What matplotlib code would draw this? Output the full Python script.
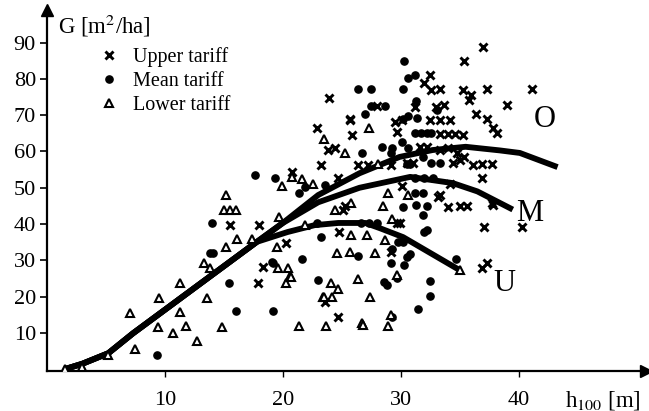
import numpy as np
import matplotlib
matplotlib.use('Agg')
import matplotlib.pyplot as plt

plt.rcParams['font.family'] = ['Liberation Serif', 'DejaVu Serif']
plt.rcParams['mathtext.fontset'] = 'stix'

# stand height h100 [m] / basal area G [m2/ha]
upper_h = [15.5, 18.0, 18.3, 17.9, 23.6, 24.7, 20.3, 23.9, 25.7, 22.9, 25.9, 23.8, 24.4, 23.2,
           26.4, 27.2, 24.7, 20.8, 25.3, 25.1, 24.8, 37.0, 35.4, 32.5, 32.0, 32.6, 33.3, 35.3,
           36.0, 35.8, 37.3, 41.1, 28.0, 31.2, 33.0, 33.7, 39.0, 25.7, 29.5, 30.1, 32.5, 33.3,
           34.2, 36.4, 37.3, 37.8, 38.2, 29.7, 33.3, 34.0, 34.6, 35.3, 31.6, 32.2, 33.3, 34.0,
           34.8, 35.4, 29.2, 30.5, 31.0, 34.4, 35.0, 36.1, 36.9, 37.7, 36.9, 33.2, 37.7, 30.1,
           34.2, 33.3, 34.0, 35.0, 35.6, 29.9, 29.7, 29.2, 37.1, 40.3, 37.3, 36.9, 37.8]
upper_g = [39.7, 39.7, 28.1, 23.7, 18.5, 14.3, 34.8, 74.8, 68.7, 66.5, 64.6, 60.4, 61.0, 56.3,
           56.3, 56.3, 52.7, 54.3, 45.0, 44.0, 37.8, 88.8, 85.0, 81.0, 78.9, 77.0, 77.2, 77.0,
           75.6, 74.2, 77.2, 77.2, 72.5, 72.3, 72.3, 72.8, 72.8, 69.0, 68.1, 68.7, 68.7, 68.7,
           68.7, 70.3, 69.0, 66.5, 65.1, 65.4, 64.8, 64.8, 64.8, 64.6, 61.2, 61.2, 60.4, 61.0,
           59.6, 58.5, 56.3, 56.8, 56.8, 56.8, 57.7, 56.3, 56.5, 56.5, 52.7, 47.4, 45.8, 50.5,
           51.0, 48.0, 44.7, 45.0, 45.0, 40.3, 40.3, 32.3, 39.2, 39.2, 29.2, 27.9, 45.2]

mean_h = [9.3, 14.0, 13.8, 14.1, 15.4, 16.0, 19.2, 19.2, 21.6, 23.0, 23.2, 22.9, 17.6, 19.3,
          21.9, 23.6, 21.4, 26.4, 26.7, 30.3, 31.2, 30.6, 27.5, 30.2, 27.5, 28.7, 31.3, 33.1,
          27.0, 30.6, 31.4, 30.2, 31.2, 31.7, 32.2, 32.6, 30.1, 28.4, 29.3, 30.6, 29.2, 31.9,
          30.5, 30.8, 32.6, 33.3, 31.2, 32.0, 32.7, 31.2, 31.9, 30.2, 31.3, 32.2, 31.9, 26.6,
          27.3, 28.0, 32.0, 32.2, 29.8, 30.2, 26.4, 19.1, 29.3, 30.5, 30.8, 30.3, 29.2, 34.7,
          28.6, 28.8, 29.7, 32.5, 32.5, 31.5, 29.3]
mean_g = [3.9, 40.3, 32.0, 32.0, 23.7, 16.0, 29.3, 16.0, 30.3, 24.5, 36.5, 40.3, 53.5, 52.7,
          50.2, 50.8, 48.6, 77.2, 59.6, 85.0, 81.0, 80.3, 77.2, 77.2, 72.5, 72.5, 74.0, 71.4,
          70.3, 69.8, 69.2, 69.0, 65.1, 65.1, 65.1, 65.1, 62.6, 61.2, 61.0, 61.0, 59.6, 58.5,
          56.5, 56.5, 56.8, 56.8, 52.7, 52.7, 52.7, 48.6, 48.6, 44.7, 45.2, 44.9, 42.5, 40.3,
          40.3, 40.3, 37.8, 38.3, 35.0, 35.0, 31.2, 29.5, 33.0, 31.0, 31.7, 28.7, 29.2, 30.3,
          24.0, 23.2, 25.0, 24.3, 20.1, 16.6, 14.3]

lower_h = [1.5, 3.0, 5.2, 7.0, 7.5, 9.5, 9.4, 10.7, 11.3, 11.3, 11.8, 12.7, 13.3, 13.8, 13.6,
           14.8, 15.0, 15.5, 16.0, 15.2, 15.2, 16.1, 17.4, 19.7, 19.5, 19.6, 20.4, 20.6, 20.3,
           21.4, 21.9, 23.7, 23.4, 23.5, 25.3, 19.9, 20.8, 21.6, 22.6, 27.3, 28.1, 28.9, 30.6,
           25.8, 24.4, 25.8, 24.6, 25.7, 20.7, 24.1, 24.7, 23.5, 24.2, 26.4, 26.7, 28.5, 29.3,
           27.1, 28.7, 27.8, 29.7, 27.4, 29.2, 26.8, 28.9, 35.0]
lower_g = [0.0, 0.5, 3.9, 15.5, 5.5, 19.6, 11.6, 9.9, 23.7, 15.7, 11.9, 7.7, 29.2, 27.9, 19.6,
           11.6, 44.0, 44.0, 44.0, 48.0, 33.7, 35.9, 35.9, 41.9, 33.7, 27.9, 27.9, 25.7, 23.7,
           11.9, 39.7, 11.9, 19.9, 63.4, 59.6, 50.5, 53.0, 52.4, 51.0, 66.5, 56.5, 48.6, 48.0,
           45.8, 43.9, 37.0, 32.0, 32.3, 25.4, 23.7, 22.0, 19.9, 19.9, 24.8, 12.7, 45.0, 41.4,
           37.0, 35.6, 32.0, 26.0, 19.9, 14.9, 12.1, 11.9, 27.3]

# fitted curves O (upper), M (mean), U (lower)
base_h = [1.5, 3.0, 5.2, 7.3, 9.3, 11.3, 13.3, 15.3, 17.8]
base_g = [0.0, 1.5, 4.4, 9.9, 14.7, 19.5, 24.3, 29.1, 35.1]
o_h = base_h + [20.0, 23.0, 26.5, 29.9, 32.7, 35.5, 38.4, 40.1, 43.3]
o_g = base_g + [40.3, 48.0, 54.0, 58.5, 60.4, 61.3, 60.3, 59.6, 55.7]
m_h = base_h + [20.0, 23.0, 26.5, 30.8, 34.4, 36.5, 39.5]
m_g = base_g + [40.3, 46.0, 50.0, 53.0, 51.3, 49.0, 44.0]
u_h = base_h + [20.4, 22.7, 24.7, 27.0, 28.2, 30.2, 35.0]
u_g = base_g + [37.8, 39.7, 40.3, 40.3, 38.9, 36.4, 27.3]

fig = plt.figure(figsize=(6.49, 4.11), dpi=100)
ax = fig.add_axes([47 / 649, 40 / 411, 599 / 649, 361 / 411])

for h, g in [(o_h, o_g), (m_h, m_g), (u_h, u_g)]:
    ax.plot(h, g, color='black', lw=4.2, solid_capstyle='butt', solid_joinstyle='round', zorder=2)

ax.plot(upper_h, upper_g, 'x', color='black', ms=5.5, mew=2.1, label='Upper tariff', zorder=3)
ax.plot(mean_h, mean_g, 'o', color='black', ms=5.2, label='Mean tariff', zorder=3)
ax.plot(lower_h, lower_g, '^', color='black', mfc='white', ms=5.8, mew=1.5,
        label='Lower tariff', zorder=3)

ax.text(42.2, 68.7, 'O', fontsize=22, ha='center', va='center')
ax.text(40.9, 43.0, 'M', fontsize=22, ha='center', va='center')
ax.text(38.8, 23.7, 'U', fontsize=22, ha='center', va='center')

ax.set_xlim(0, 50.8)
ax.set_ylim(-0.5, 99)
ax.set_xticks([10, 20, 30, 40])
ax.set_yticks(np.arange(10, 100, 10))
ax.tick_params(axis='y', direction='out', length=5, width=1.2, pad=3, labelsize=16)
ax.tick_params(axis='x', direction='out', length=4, width=1, pad=10.5, labelsize=16)
for s in ['top', 'right']:
    ax.spines[s].set_visible(False)
for s in ['left', 'bottom']:
    ax.spines[s].set_linewidth(1.6)

# axis arrows
ax.plot(1, 0, '>', color='black', ms=8, transform=ax.transAxes, clip_on=False)
ax.plot(0, 1, '^', color='black', ms=8, transform=ax.transAxes, clip_on=False)

fig.text(58 / 649, 1 - 26 / 411, 'G [m$^2$/ha]', fontsize=16.5, va='center')
fig.text(565 / 649, 1 - 400 / 411, 'h$_{100}$ [m]', fontsize=16.5, va='center')

ax.legend(loc='upper left', bbox_to_anchor=(0.07, 0.92), frameon=False, fontsize=14.5,
          handlelength=1.2, handletextpad=0.6, labelspacing=0.25, borderaxespad=0)

fig.savefig('out.png', dpi=100)
